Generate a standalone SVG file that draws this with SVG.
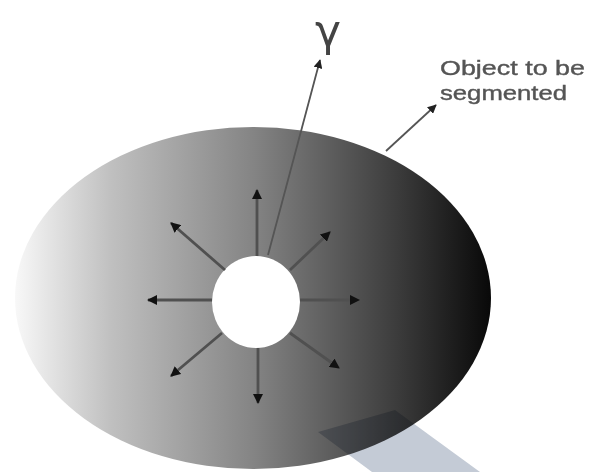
<svg xmlns="http://www.w3.org/2000/svg" width="597" height="472" viewBox="0 0 597 472">
<defs>
<linearGradient id="g" x1="15" y1="0" x2="492" y2="0" gradientUnits="userSpaceOnUse">
<stop offset="0" stop-color="#f8f8f8"/>
<stop offset="0.2" stop-color="#c0c0c0"/>
<stop offset="0.5" stop-color="#848484"/>
<stop offset="0.8" stop-color="#3c3c3c"/>
<stop offset="1" stop-color="#080808"/>
</linearGradient>
<marker id="ah" viewBox="0 0 10 10" refX="9" refY="5" markerWidth="3.6" markerHeight="3.6" orient="auto" markerUnits="strokeWidth">
<path d="M0,0 L10,5 L0,10 z" fill="#111"/>
</marker>
<marker id="ah2" viewBox="0 0 10 10" refX="9" refY="5" markerWidth="5" markerHeight="5" orient="auto" markerUnits="strokeWidth">
<path d="M0,0 L10,5 L0,10 z" fill="#222"/>
</marker>
<style>
.ray{stroke:#505050;stroke-width:2.8;fill:none;marker-end:url(#ah)}
.thin{stroke:#555;stroke-width:1.8;fill:none;marker-end:url(#ah2)}
.lbl{font-family:"Liberation Sans",Arial,sans-serif;font-size:21px;fill:#555;stroke:#555;stroke-width:0.4}
</style>
</defs>
<rect width="597" height="472" fill="#fff"/>
<g id="object">
<ellipse cx="253" cy="298" rx="238" ry="171" fill="url(#g)"/>
</g>
<g id="band">
<polygon points="318,432 395,410 480,472 372,472" fill="#c4cbd6" style="mix-blend-mode:multiply"/>
</g>
<g id="seed">
<ellipse cx="256" cy="302" rx="44" ry="46" fill="#fff"/>
</g>
<g id="connectors">
<line class="ray" x1="257" y1="256" x2="257" y2="190"/>
<line class="ray" x1="225" y1="270" x2="171" y2="223"/>
<line class="ray" x1="290" y1="270" x2="330" y2="232"/>
<line class="ray" x1="212" y1="300" x2="148" y2="300"/>
<line class="ray" x1="300" y1="300" x2="359" y2="300"/>
<line class="ray" x1="222" y1="333" x2="171" y2="376"/>
<line class="ray" x1="290" y1="333" x2="339" y2="368"/>
<line class="ray" x1="258" y1="348" x2="258" y2="403"/>
<line class="thin" x1="268" y1="255" x2="320" y2="60"/>
<line class="thin" x1="386" y1="151" x2="436" y2="105"/>
</g>
<g id="labels">
<text x="315" y="46" font-family="'DejaVu Sans',sans-serif" font-size="44" fill="#444">γ</text>
<text class="lbl" x="440" y="75" textLength="145" lengthAdjust="spacingAndGlyphs">Object to be</text>
<text class="lbl" x="440" y="100" textLength="127" lengthAdjust="spacingAndGlyphs">segmented</text>
</g>
</svg>
